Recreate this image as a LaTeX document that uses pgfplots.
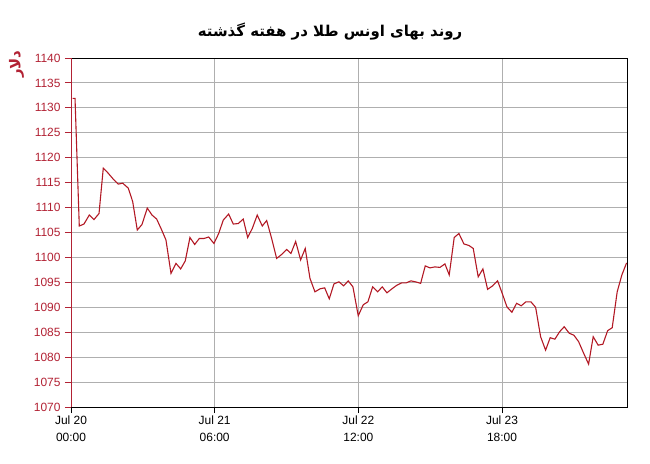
\documentclass[border=0pt]{standalone}
\usepackage{pgfplots}
\pgfplotsset{compat=1.18}
\usepackage{fontspec}
\setmainfont{Liberation Sans}
\newfontfamily\arabicfont[Script=Arabic]{DejaVu Sans}
\TeXXeTstate=1
\definecolor{linered}{RGB}{178,24,36}
\definecolor{axred}{RGB}{178,34,52}
\definecolor{gridgray}{RGB}{175,175,175}
\begin{document}
\begin{tikzpicture}
\useasboundingbox (-71bp,-57bp) rectangle (579bp,407bp);
\begin{axis}[
  at={(0,0)}, anchor=south west,
  scale only axis, width=556bp, height=349bp,
  clip mode=individual,
  xmin=0, xmax=116.1, ymin=1070, ymax=1140,
  xtick={0,30,60,90},
  xticklabels={{Jul 20\\00:00},{Jul 21\\06:00},{Jul 22\\12:00},{Jul 23\\18:00}},
  ytick={1070,1075,...,1140},
  xtick pos=bottom, ytick pos=left,
  tick align=outside,
  major tick length=6bp,
  /pgf/number format/assume math mode=true,
  /pgf/number format/set thousands separator={},
  yticklabel style={font=\fontsize{12}{14}\selectfont, text=axred, xshift=-1bp},
  xticklabel style={font=\fontsize{12}{17}\selectfont, align=center, text=black, yshift=1bp},
  ytick style={axred, line width=0.9pt},
  xtick style={black, line width=0.8pt},
  grid=major,
  major grid style={gridgray, line width=0.9pt},
  axis line style={black, line width=0.9pt},
]
\addplot[linered, line width=1.1pt] coordinates {
(0.35,1131.9) (0.84,1131.9) (1.73,1106.3) (2.71,1106.7) (3.82,1108.5) (4.80,1107.6)
(5.85,1108.8) (6.74,1117.9) (7.58,1117.1) (8.83,1115.7) (9.87,1114.7) (10.79,1114.9)
(11.96,1113.9) (12.88,1111.2) (13.84,1105.5) (14.82,1106.6) (15.93,1109.9) (16.91,1108.5)
(17.89,1107.7) (18.94,1105.5) (19.83,1103.5) (20.88,1096.8) (21.92,1098.8) (22.90,1097.7)
(23.86,1099.3) (24.84,1104.0) (25.83,1102.6) (26.79,1103.8) (27.77,1103.8) (28.75,1104.1)
(29.85,1102.8) (30.84,1104.8) (31.80,1107.5) (32.92,1108.7) (33.88,1106.7) (34.93,1106.8)
(35.97,1107.7) (36.89,1104.0) (37.85,1105.8) (38.89,1108.5) (39.94,1106.3) (40.86,1107.4)
(41.90,1103.8) (42.94,1099.8) (43.99,1100.6) (45.03,1101.6) (45.93,1100.8) (46.91,1103.2)
(47.95,1099.5) (48.91,1101.8) (49.90,1095.8) (50.94,1093.1) (51.99,1093.7) (52.97,1093.9)
(53.93,1091.7) (54.91,1094.7) (55.95,1095.1) (56.93,1094.3) (57.89,1095.3) (58.87,1094.1)
(59.98,1088.3) (61.02,1090.5) (62.00,1091.1) (62.99,1094.1) (64.03,1093.1) (64.99,1094.1)
(65.97,1092.9) (67.01,1093.7) (68.00,1094.4) (69.04,1094.9) (70.00,1094.9) (70.98,1095.3)
(71.96,1095.1) (73.01,1094.8) (73.97,1098.3) (74.95,1097.9) (75.99,1098.1) (77.04,1098.0)
(78.08,1098.7) (78.98,1096.5) (80.02,1104.0) (81.00,1104.8) (82.05,1102.7) (83.09,1102.4)
(83.99,1101.8) (85.03,1096.1) (86.01,1097.7) (86.99,1093.6) (88.04,1094.3) (89.08,1095.3)
(90.04,1092.8) (91.02,1090.1) (92.07,1089.0) (93.05,1090.8) (94.01,1090.3) (94.99,1091.1)
(96.03,1091.1) (97.02,1090.0) (98.06,1084.1) (99.10,1081.4) (100.06,1083.9) (101.04,1083.6)
(102.03,1085.1) (102.99,1086.1) (104.03,1084.8) (105.01,1084.4) (106.00,1083.1) (107.04,1080.8)
(108.08,1078.6) (109.04,1084.1) (110.08,1082.4) (111.06,1082.6) (112.05,1085.3) (113.01,1085.9)
(114.05,1093.1) (115.03,1096.5) (116.01,1098.9)
};
\draw[axred, line width=1pt] (rel axis cs:0,0) -- (rel axis cs:0,1);
\node[font=\arabicfont\bfseries\fontsize{15}{18}\selectfont, text=black] at (rel axis cs:0.466,1.0745) {\beginR روند بهای اونس طلا در هفته گذشته\endR};
\node[font=\arabicfont\bfseries\fontsize{15}{17}\selectfont, text=axred, rotate=90] at (rel axis cs:-0.098,0.982) {\beginR دلار\endR};
\end{axis}
\end{tikzpicture}
\end{document}
